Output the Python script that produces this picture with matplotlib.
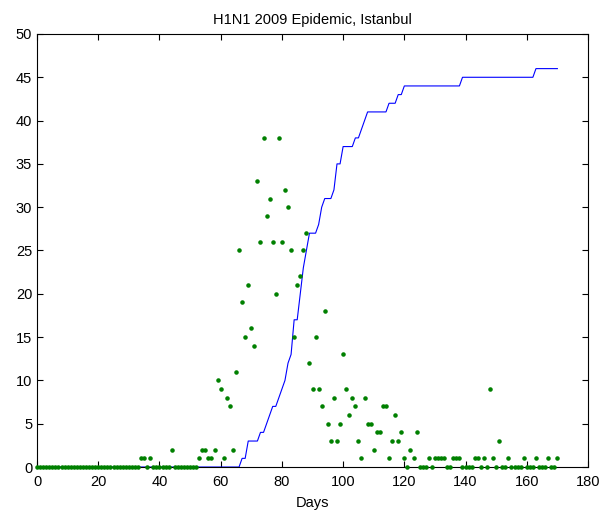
import numpy as np
import matplotlib.pyplot as plt

plt.rcParams['font.family'] = ['Liberation Sans', 'DejaVu Sans']

# daily new cases (green dots), days 0..170
cases = [0] * 34 + [1, 1, 0, 1] + [0] * 6 + [2] + [0] * 8 + \
    [1, 2, 2, 1, 1, 2, 10, 9, 1, 8, 7, 2, 11, 25, 19, 15, 21, 16, 14,
     33, 26, 38, 29, 31, 26, 20, 38, 26, 32, 30, 25, 15, 21, 22, 25, 27,
     12, 9, 15, 9, 7, 18, 5, 3, 8, 3, 5, 13, 9, 6, 8, 7, 3, 1, 8, 5, 5,
     2, 4, 4, 7, 7, 1, 3, 6, 3, 4, 1, 0, 2, 1, 4, 0, 0, 0, 1, 0, 1, 1,
     1, 1, 0, 0, 1, 1, 1, 0, 0, 0, 0, 1, 1, 0, 1, 0, 9, 1, 0, 3, 0, 0,
     1, 0, 0, 0, 0, 1, 0, 0, 0, 1, 0, 0, 0, 1, 0, 0, 1]

# cumulative curve (blue line), days 0..170
cumul = [0] * 67 + \
    [1, 1, 3, 3, 3, 3, 4, 4, 5, 6, 7, 7, 8, 9, 10, 12, 13, 17, 17, 20,
     23, 25, 27, 27, 27, 28, 30, 31, 31, 31, 32, 35, 35, 37, 37, 37, 37,
     38, 38, 39, 40, 41, 41, 41, 41, 41, 41, 41, 42, 42, 42, 43, 43] + \
    [44] * 19 + [45] * 24 + [46] * 8

days = np.arange(len(cases))
days2 = np.arange(len(cumul))

fig = plt.figure(figsize=(6.04, 5.14), dpi=100)
ax = fig.add_axes([0.0613, 0.0914, 0.9122, 0.8425])

ax.plot(days2, cumul, '-', color='blue', linewidth=0.8, zorder=2)
ax.plot(days, cases, '.', color=(0, 0.5, 0), markersize=4.5, zorder=3,
        clip_on=False)

ax.set_xlim(0, 180)
ax.set_ylim(0, 50)
ax.set_xticks(np.arange(0, 181, 20))
ax.set_yticks(np.arange(0, 51, 5))
ax.tick_params(direction='in', top=True, right=True, length=4, labelsize=10.5)
ax.tick_params(axis='x', pad=6)
ax.set_xlabel('Days', fontsize=10.5, labelpad=5)
ax.set_title('H1N1 2009 Epidemic, Istanbul', fontsize=10.5, pad=7)

plt.savefig('out.png', dpi=100)
